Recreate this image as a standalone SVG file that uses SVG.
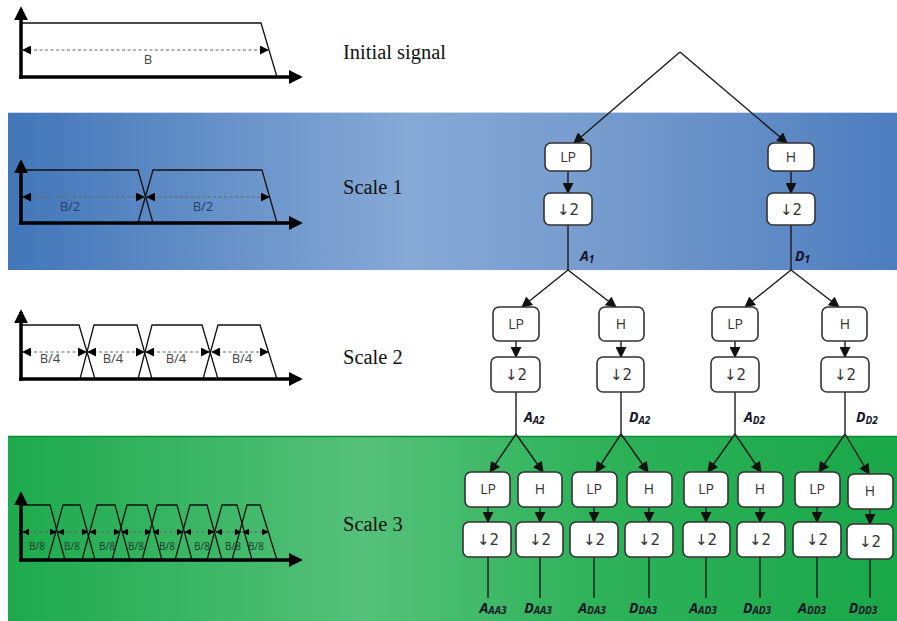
<svg xmlns="http://www.w3.org/2000/svg" width="897" height="621" viewBox="0 0 897 621">
<defs>
<linearGradient id="gBlue" x1="0" y1="0" x2="1" y2="0">
<stop offset="0" stop-color="#4276b9"/>
<stop offset="0.45" stop-color="#86a9d6"/>
<stop offset="0.7" stop-color="#7399cc"/>
<stop offset="1" stop-color="#4d7dbf"/>
</linearGradient>
<linearGradient id="gGreen" x1="0" y1="0" x2="1" y2="0">
<stop offset="0" stop-color="#1daa4d"/>
<stop offset="0.4" stop-color="#55c17a"/>
<stop offset="0.65" stop-color="#2fb35a"/>
<stop offset="1" stop-color="#19a748"/>
</linearGradient>
<marker id="arr" viewBox="0 0 10 10" refX="9" refY="5" markerWidth="11" markerHeight="11" markerUnits="userSpaceOnUse" orient="auto">
<path d="M0,0 L10,5 L0,10 z" fill="#111"/>
</marker>
<marker id="axarr" viewBox="0 0 10 10" refX="8" refY="5" markerWidth="14" markerHeight="14" markerUnits="userSpaceOnUse" orient="auto">
<path d="M0,0 L10,5 L0,10 z" fill="#000"/>
</marker>
<marker id="darr" viewBox="0 0 10 10" refX="9" refY="5" markerWidth="9" markerHeight="9" markerUnits="userSpaceOnUse" orient="auto-start-reverse">
<path d="M0,0 L10,5 L0,10 z" fill="#000"/>
</marker>
<marker id="darrS" viewBox="0 0 10 10" refX="9" refY="5" markerWidth="7" markerHeight="7" markerUnits="userSpaceOnUse" orient="auto-start-reverse">
<path d="M0,0 L10,5 L0,10 z" fill="#000"/>
</marker>
</defs>
<style>
.box{fill:#fff;stroke:#333;stroke-width:1.6}
.bt{font-family:"Open Sans","Liberation Sans",sans-serif;font-size:14px;fill:#333;text-anchor:middle}
.dn{font-family:"DejaVu Sans","Open Sans",sans-serif;font-size:15px;fill:#333;text-anchor:middle}
.con{stroke:#1a1a1a;stroke-width:1.4;fill:none}
.lab{font-family:"Open Sans","Liberation Sans",sans-serif;font-weight:bold;font-style:italic;font-size:14px;fill:#14142a}
.sub{font-size:10px}
.scale{font-family:"Liberation Serif","Times New Roman",serif;font-size:20.5px;fill:#111}
.ax{stroke:#000;stroke-width:3.5;fill:none}
.tr{stroke:#111;stroke-width:1.3;fill:none}
.dash{stroke:#666;stroke-width:1.2;stroke-dasharray:3 2.5;fill:none}
.bl{font-family:"Open Sans","Liberation Sans",sans-serif;font-size:13px;fill:#444;text-anchor:middle}
.bl8{font-family:"Open Sans","Liberation Sans",sans-serif;font-size:10px;fill:#1c3a2a;text-anchor:middle}
</style>

<g id="bands">
<rect x="8" y="112" width="889" height="158" fill="url(#gBlue)"/>
<line x1="8" y1="112.5" x2="897" y2="112.5" stroke="#c9d8ee" stroke-width="1"/>
<rect x="8" y="436" width="889" height="185" fill="url(#gGreen)"/>
<line x1="8" y1="436.5" x2="897" y2="436.5" stroke="#0f8a3a" stroke-width="1.5"/>
</g>

<g id="labels-left">
<text class="scale" x="343" y="59">Initial signal</text>
<text class="scale" x="343" y="194">Scale 1</text>
<text class="scale" x="343" y="364">Scale 2</text>
<text class="scale" x="343" y="531">Scale 3</text>
</g>

<g id="chart0">
<polyline class="tr" points="21,23 261,23 277,77"/>
<line class="dash" x1="23" y1="50" x2="268" y2="50" marker-start="url(#darr)" marker-end="url(#darr)"/>
<text class="bl" x="148" y="64">B</text>
<line class="ax" x1="21" y1="79" x2="21" y2="9" marker-end="url(#axarr)"/>
<line class="ax" x1="19" y1="77" x2="300" y2="77" marker-end="url(#axarr)"/>
</g>

<g id="chart1">
<polyline class="tr" points="21,170 138,170 153,223"/>
<polyline class="tr" points="138,223 153,170 262,170 277,223"/>
<line class="dash" x1="23" y1="197" x2="144" y2="197" marker-start="url(#darr)" marker-end="url(#darr)"/>
<line class="dash" x1="147" y1="197" x2="269" y2="197" marker-start="url(#darr)" marker-end="url(#darr)"/>
<text class="bl" x="70" y="211" style="fill:#23406c">B/2</text>
<text class="bl" x="203" y="211" style="fill:#23406c">B/2</text>
<line class="ax" x1="21" y1="225" x2="21" y2="162" marker-end="url(#axarr)"/>
<line class="ax" x1="19" y1="223" x2="300" y2="223" marker-end="url(#axarr)"/>
</g>

<g id="chart2">
<polyline class="tr" points="21,325 79,325 95,379"/>
<polyline class="tr" points="80,379 94,325 137,325 152,379"/>
<polyline class="tr" points="138,379 152,325 202,325 218,379"/>
<polyline class="tr" points="203,379 218,325 260,325 277,379"/>
<line class="dash" x1="23" y1="352" x2="86" y2="352" marker-start="url(#darr)" marker-end="url(#darr)"/>
<line class="dash" x1="88" y1="352" x2="144" y2="352" marker-start="url(#darr)" marker-end="url(#darr)"/>
<line class="dash" x1="146" y1="352" x2="209" y2="352" marker-start="url(#darr)" marker-end="url(#darr)"/>
<line class="dash" x1="212" y1="352" x2="268" y2="352" marker-start="url(#darr)" marker-end="url(#darr)"/>
<text class="bl" x="50" y="363">B/4</text>
<text class="bl" x="113" y="363">B/4</text>
<text class="bl" x="176" y="363">B/4</text>
<text class="bl" x="242" y="363">B/4</text>
<line class="ax" x1="21" y1="381" x2="21" y2="312" marker-end="url(#axarr)"/>
<line class="ax" x1="19" y1="379" x2="300" y2="379" marker-end="url(#axarr)"/>
</g>

<g id="chart3">
<polyline class="tr" points="21,505 50,505 65,560"/>
<polyline class="tr" points="48,560 63,505 80,505 95,560"/>
<polyline class="tr" points="82,560 97,505 115,505 130,560"/>
<polyline class="tr" points="112,560 127,505 147,505 162,560"/>
<polyline class="tr" points="142,560 157,505 177,505 192,560"/>
<polyline class="tr" points="175,560 190,505 207,505 222,560"/>
<polyline class="tr" points="207,560 222,505 237,505 252,560"/>
<polyline class="tr" points="232,560 247,505 260,505 277,560"/>
<line class="dash" x1="23" y1="532" x2="56" y2="532" marker-start="url(#darrS)" marker-end="url(#darrS)"/>
<line class="dash" x1="58" y1="532" x2="88" y2="532" marker-start="url(#darrS)" marker-end="url(#darrS)"/>
<line class="dash" x1="90" y1="532" x2="120" y2="532" marker-start="url(#darrS)" marker-end="url(#darrS)"/>
<line class="dash" x1="122" y1="532" x2="151" y2="532" marker-start="url(#darrS)" marker-end="url(#darrS)"/>
<line class="dash" x1="153" y1="532" x2="183" y2="532" marker-start="url(#darrS)" marker-end="url(#darrS)"/>
<line class="dash" x1="185" y1="532" x2="214" y2="532" marker-start="url(#darrS)" marker-end="url(#darrS)"/>
<line class="dash" x1="216" y1="532" x2="241" y2="532" marker-start="url(#darrS)" marker-end="url(#darrS)"/>
<line class="dash" x1="243" y1="532" x2="268" y2="532" marker-start="url(#darrS)" marker-end="url(#darrS)"/>
<text class="bl8" x="37" y="550">B/8</text>
<text class="bl8" x="72" y="550">B/8</text>
<text class="bl8" x="107" y="550">B/8</text>
<text class="bl8" x="136" y="550">B/8</text>
<text class="bl8" x="167" y="550">B/8</text>
<text class="bl8" x="202" y="550">B/8</text>
<text class="bl8" x="233" y="550">B/8</text>
<text class="bl8" x="256" y="550">B/8</text>
<line class="ax" x1="21" y1="562" x2="21" y2="494" marker-end="url(#axarr)"/>
<line class="ax" x1="19" y1="560" x2="300" y2="560" marker-end="url(#axarr)"/>
</g>

<g id="connectors">
<line class="con" x1="680" y1="52" x2="574" y2="143" marker-end="url(#arr)"/>
<line class="con" x1="680" y1="52" x2="787" y2="143" marker-end="url(#arr)"/>
<line class="con" x1="568" y1="171" x2="568" y2="193" marker-end="url(#arr)"/>
<line class="con" x1="791" y1="171" x2="791" y2="193" marker-end="url(#arr)"/>
<line class="con" x1="568" y1="225" x2="568" y2="270"/>
<line class="con" x1="791" y1="225" x2="791" y2="270"/>
<line class="con" x1="568" y1="270" x2="522" y2="307" marker-end="url(#arr)"/>
<line class="con" x1="568" y1="270" x2="616" y2="307" marker-end="url(#arr)"/>
<line class="con" x1="791" y1="270" x2="745" y2="307" marker-end="url(#arr)"/>
<line class="con" x1="791" y1="270" x2="839" y2="307" marker-end="url(#arr)"/>
<line class="con" x1="516" y1="341" x2="516" y2="357" marker-end="url(#arr)"/>
<line class="con" x1="621" y1="341" x2="621" y2="357" marker-end="url(#arr)"/>
<line class="con" x1="735" y1="341" x2="735" y2="357" marker-end="url(#arr)"/>
<line class="con" x1="845" y1="341" x2="845" y2="357" marker-end="url(#arr)"/>
<line class="con" x1="516" y1="392" x2="516" y2="434"/>
<line class="con" x1="621" y1="392" x2="621" y2="434"/>
<line class="con" x1="735" y1="392" x2="735" y2="434"/>
<line class="con" x1="845" y1="392" x2="845" y2="434"/>
<line class="con" x1="516" y1="434" x2="490" y2="472" marker-end="url(#arr)"/>
<line class="con" x1="516" y1="434" x2="543" y2="472" marker-end="url(#arr)"/>
<line class="con" x1="621" y1="434" x2="596" y2="472" marker-end="url(#arr)"/>
<line class="con" x1="621" y1="434" x2="648" y2="472" marker-end="url(#arr)"/>
<line class="con" x1="735" y1="434" x2="708" y2="472" marker-end="url(#arr)"/>
<line class="con" x1="735" y1="434" x2="761" y2="472" marker-end="url(#arr)"/>
<line class="con" x1="845" y1="434" x2="819" y2="472" marker-end="url(#arr)"/>
<line class="con" x1="845" y1="434" x2="869" y2="474" marker-end="url(#arr)"/>
<line class="con" x1="488" y1="507" x2="488" y2="522" marker-end="url(#arr)"/>
<line class="con" x1="540" y1="507" x2="540" y2="522" marker-end="url(#arr)"/>
<line class="con" x1="594" y1="507" x2="594" y2="522" marker-end="url(#arr)"/>
<line class="con" x1="649" y1="507" x2="649" y2="522" marker-end="url(#arr)"/>
<line class="con" x1="706" y1="507" x2="706" y2="522" marker-end="url(#arr)"/>
<line class="con" x1="760" y1="507" x2="760" y2="522" marker-end="url(#arr)"/>
<line class="con" x1="817" y1="507" x2="817" y2="522" marker-end="url(#arr)"/>
<line class="con" x1="870" y1="509" x2="870" y2="524" marker-end="url(#arr)"/>
<line class="con" x1="488" y1="557" x2="488" y2="598"/>
<line class="con" x1="540" y1="557" x2="540" y2="598"/>
<line class="con" x1="594" y1="557" x2="594" y2="598"/>
<line class="con" x1="649" y1="557" x2="649" y2="598"/>
<line class="con" x1="706" y1="557" x2="706" y2="598"/>
<line class="con" x1="760" y1="557" x2="760" y2="598"/>
<line class="con" x1="817" y1="557" x2="817" y2="598"/>
<line class="con" x1="870" y1="559" x2="870" y2="598"/>
</g>

<g id="s1-lp"><rect class="box" x="545" y="143" width="46" height="28" rx="6"/><text class="bt" x="568" y="162">LP</text></g>
<g id="s1-h"><rect class="box" x="768" y="143" width="46" height="28" rx="6"/><text class="bt" x="791" y="162">H</text></g>
<g id="s1-lp-ds"><rect class="box" x="544" y="193" width="48" height="32" rx="6"/><text class="dn" x="568" y="215">↓2</text></g>
<g id="s1-h-ds"><rect class="box" x="767" y="193" width="48" height="32" rx="6"/><text class="dn" x="791" y="215">↓2</text></g>
<g id="s1-labels">
<text class="lab" x="580" y="261">A<tspan class="sub" dy="2">1</tspan></text>
<text class="lab" x="795" y="261">D<tspan class="sub" dy="2">1</tspan></text>
</g>

<g id="s2-lp1"><rect class="box" x="493" y="307" width="46" height="34" rx="6"/><text class="bt" x="516" y="329">LP</text></g>
<g id="s2-h1"><rect class="box" x="599" y="307" width="45" height="34" rx="6"/><text class="bt" x="621" y="329">H</text></g>
<g id="s2-lp2"><rect class="box" x="712" y="307" width="46" height="34" rx="6"/><text class="bt" x="735" y="329">LP</text></g>
<g id="s2-h2"><rect class="box" x="822" y="307" width="45" height="34" rx="6"/><text class="bt" x="845" y="329">H</text></g>
<g id="s2-ds1"><rect class="box" x="491" y="357" width="49" height="35" rx="6"/><text class="dn" x="516" y="380">↓2</text></g>
<g id="s2-ds2"><rect class="box" x="597" y="357" width="47" height="35" rx="6"/><text class="dn" x="621" y="380">↓2</text></g>
<g id="s2-ds3"><rect class="box" x="711" y="357" width="48" height="35" rx="6"/><text class="dn" x="735" y="380">↓2</text></g>
<g id="s2-ds4"><rect class="box" x="821" y="357" width="48" height="35" rx="6"/><text class="dn" x="845" y="380">↓2</text></g>
<g id="s2-labels">
<text class="lab" x="524" y="422">A<tspan class="sub" dy="2">A2</tspan></text>
<text class="lab" x="629" y="422">D<tspan class="sub" dy="2">A2</tspan></text>
<text class="lab" x="744" y="422">A<tspan class="sub" dy="2">D2</tspan></text>
<text class="lab" x="856" y="422">D<tspan class="sub" dy="2">D2</tspan></text>
</g>

<g id="s3-f1"><rect class="box" x="465" y="472" width="45" height="35" rx="6"/><text class="bt" x="488" y="494">LP</text></g>
<g id="s3-f2"><rect class="box" x="518" y="472" width="44" height="35" rx="6"/><text class="bt" x="540" y="494">H</text></g>
<g id="s3-f3"><rect class="box" x="572" y="472" width="45" height="35" rx="6"/><text class="bt" x="594" y="494">LP</text></g>
<g id="s3-f4"><rect class="box" x="627" y="472" width="45" height="35" rx="6"/><text class="bt" x="649" y="494">H</text></g>
<g id="s3-f5"><rect class="box" x="684" y="472" width="44" height="35" rx="6"/><text class="bt" x="706" y="494">LP</text></g>
<g id="s3-f6"><rect class="box" x="738" y="472" width="45" height="35" rx="6"/><text class="bt" x="760" y="494">H</text></g>
<g id="s3-f7"><rect class="box" x="795" y="472" width="45" height="35" rx="6"/><text class="bt" x="817" y="494">LP</text></g>
<g id="s3-f8"><rect class="box" x="848" y="474" width="45" height="35" rx="6"/><text class="bt" x="870" y="496">H</text></g>
<g id="s3-d1"><rect class="box" x="463" y="522" width="48" height="35" rx="6"/><text class="dn" x="488" y="545">↓2</text></g>
<g id="s3-d2"><rect class="box" x="516" y="522" width="47" height="35" rx="6"/><text class="dn" x="540" y="545">↓2</text></g>
<g id="s3-d3"><rect class="box" x="570" y="522" width="48" height="35" rx="6"/><text class="dn" x="594" y="545">↓2</text></g>
<g id="s3-d4"><rect class="box" x="625" y="522" width="48" height="35" rx="6"/><text class="dn" x="649" y="545">↓2</text></g>
<g id="s3-d5"><rect class="box" x="683" y="522" width="47" height="35" rx="6"/><text class="dn" x="706" y="545">↓2</text></g>
<g id="s3-d6"><rect class="box" x="737" y="522" width="48" height="35" rx="6"/><text class="dn" x="760" y="545">↓2</text></g>
<g id="s3-d7"><rect class="box" x="793" y="522" width="48" height="35" rx="6"/><text class="dn" x="817" y="545">↓2</text></g>
<g id="s3-d8"><rect class="box" x="847" y="524" width="46" height="35" rx="6"/><text class="dn" x="870" y="547">↓2</text></g>
<g id="s3-labels" text-anchor="middle">
<text class="lab" x="493" y="613">A<tspan class="sub" dy="1">AA3</tspan></text>
<text class="lab" x="538" y="613">D<tspan class="sub" dy="1">AA3</tspan></text>
<text class="lab" x="592" y="613">A<tspan class="sub" dy="1">DA3</tspan></text>
<text class="lab" x="643" y="613">D<tspan class="sub" dy="1">DA3</tspan></text>
<text class="lab" x="703" y="613">A<tspan class="sub" dy="1">AD3</tspan></text>
<text class="lab" x="757" y="613">D<tspan class="sub" dy="1">AD3</tspan></text>
<text class="lab" x="812" y="613">A<tspan class="sub" dy="1">DD3</tspan></text>
<text class="lab" x="863" y="613">D<tspan class="sub" dy="1">DD3</tspan></text>
</g>
</svg>
